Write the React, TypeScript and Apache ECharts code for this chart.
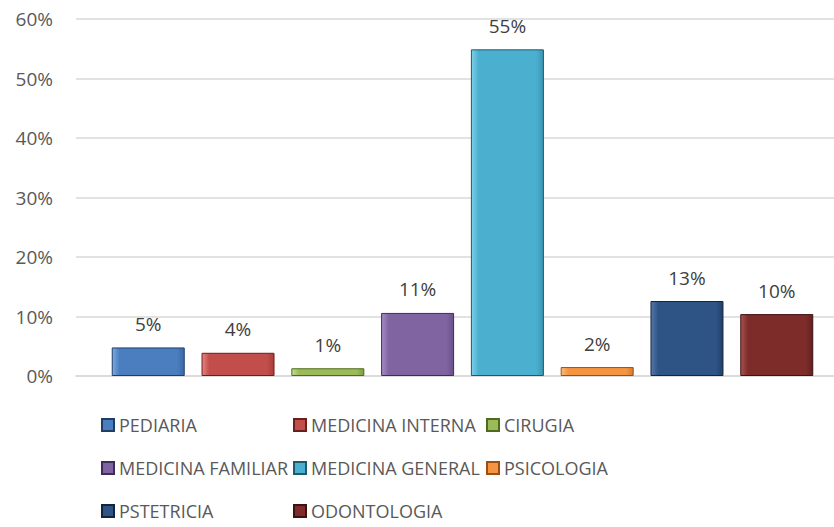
import React, { useEffect, useRef } from "react";
import * as echarts from "echarts";

const specialties = [
  "PEDIARIA",
  "MEDICINA INTERNA",
  "CIRUGIA",
  "MEDICINA FAMILIAR",
  "MEDICINA GENERAL",
  "PSICOLOGIA",
  "PSTETRICIA",
  "ODONTOLOGIA",
];
const percentages = [4.8, 3.9, 1.3, 10.6, 54.9, 1.5, 12.6, 10.4];
const baseColors = ["#4a7ebf", "#c24e4b", "#9bbb59", "#8064a2", "#4bb0d0", "#f59542", "#2e5486", "#7e2c2a"];
const lightColors = ["#7ea9e0", "#e88481", "#c2dc8c", "#a58cc6", "#7fd0e6", "#fbbb7c", "#5678a8", "#a85350"];
const darkColors = ["#3a6aa6", "#a63e3b", "#809c44", "#6a518a", "#3a96b2", "#d67a2e", "#223f68", "#622120"];
const borderColors = ["#1f3d66", "#6b1f1d", "#4f6b1f", "#3e2c5a", "#1d5a6d", "#9a5010", "#13243d", "#3d1211"];
const categories = [""];
const legendColumns = [
  ["PEDIARIA", "MEDICINA FAMILIAR", "PSTETRICIA"],
  ["MEDICINA INTERNA", "MEDICINA GENERAL", "ODONTOLOGIA"],
  ["CIRUGIA", "PSICOLOGIA"],
];
const yMax = 60;
const yInterval = 10;

const FONT = "'Open Sans', 'Noto Sans', sans-serif";

export default function App() {
  const ref = useRef<HTMLDivElement>(null);
  useEffect(() => {
    if (!ref.current) return;
    const chart = echarts.init(ref.current, undefined, { renderer: "svg" });
    const series = specialties.map((name, i) => ({
      type: "bar" as const,
      name,
      data: [percentages[i]],
      barWidth: 73,
      barGap: "23%",
      itemStyle: {
        color: new echarts.graphic.LinearGradient(0, 0, 1, 0, [
          { offset: 0, color: lightColors[i] },
          { offset: 0.1, color: baseColors[i] },
          { offset: 0.9, color: baseColors[i] },
          { offset: 1, color: darkColors[i] },
        ]),
        borderColor: borderColors[i],
        borderWidth: 1,
      },
      label: {
        show: true,
        position: "top" as const,
        distance: 14,
        formatter: (p: any) => Math.round(p.value) + "%",
        color: "#404040",
        fontSize: 19,
        fontFamily: FONT,
      },
    }));
    const legendLefts = [101, 293, 486];
    chart.setOption({
      animation: false,
      grid: { left: 76, right: 0, top: 19, bottom: 151 },
      xAxis: {
        type: "category",
        data: categories,
        axisLine: { show: true, lineStyle: { color: "#d9d9d9", width: 1.5 } },
        axisTick: { show: false },
        axisLabel: { show: false },
      },
      yAxis: {
        type: "value",
        min: 0,
        max: yMax,
        interval: yInterval,
        axisLine: { show: false },
        axisTick: { show: false },
        axisLabel: {
          formatter: "{value}%",
          color: "#595959",
          fontSize: 19,
          fontFamily: FONT,
          margin: 23,
        },
        splitLine: { lineStyle: { color: "#d9d9d9", width: 1.5 } },
      },
      legend: legendColumns.map((col, k) => ({
        data: col,
        orient: "vertical",
        left: legendLefts[k],
        top: 416,
        icon: "rect",
        itemWidth: 12,
        itemHeight: 12,
        itemGap: 25,
        textStyle: {
          color: "#595959",
          fontSize: 18,
          fontFamily: FONT,
          lineHeight: 18,
          padding: [0, 0, 0, 0],
        },
        padding: 0,
      })),
      series,
    });
    return () => chart.dispose();
  }, []);
  return (
    <div style={{ position: "fixed", left: 0, top: 0, width: 834, height: 527, overflow: "hidden", background: "#fff" }}>
      <div ref={ref} style={{ width: 849, height: 527 }} />
    </div>
  );
}
